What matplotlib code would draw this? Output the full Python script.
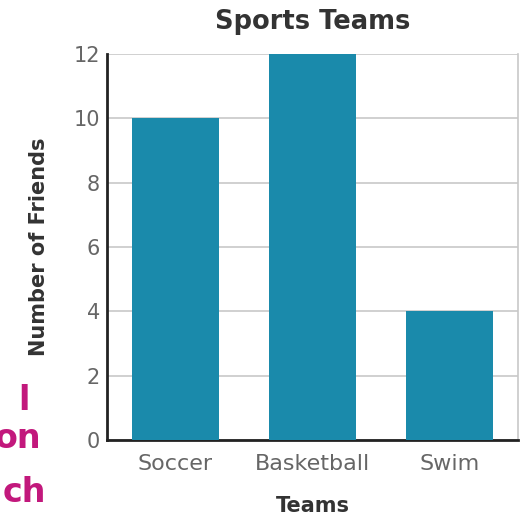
import matplotlib.pyplot as plt

teams = ['Soccer', 'Basketball', 'Swim']
friends = [10, 12, 4]
y_ticks = [0, 2, 4, 6, 8, 10, 12]

plt.rcParams['font.family'] = ['DejaVu Sans']

fig = plt.figure(figsize=(5.31, 5.21), dpi=100)
ax = fig.add_axes([107/531, 1 - 440/521, 411/531, 386/521])

x = list(range(len(teams)))
ax.bar(x, friends, width=0.64, color='#1a8aab', zorder=3)

ax.set_xlim(-0.5, 2.5)
ax.set_ylim(0, 12)
ax.set_yticks(y_ticks)
ax.set_xticks(x)
ax.set_xticklabels(teams, fontsize=16)
ax.grid(axis='y', color='#c8c8c8', linewidth=1.2, zorder=0)
ax.tick_params(length=0, labelcolor='#666666')
ax.tick_params(axis='x', pad=10)
ax.tick_params(axis='y', pad=5, labelsize=15)

for side in ['left', 'bottom']:
    ax.spines[side].set_color('#222222')
    ax.spines[side].set_linewidth(2)
ax.spines['right'].set_color('#c8c8c8')
ax.spines['right'].set_linewidth(1.2)
ax.spines['top'].set_visible(False)

ax.set_title('Sports Teams', fontsize=18.5, fontweight='bold', color='#333333', pad=18)
ax.set_xlabel('Teams', fontsize=15, fontweight='bold', color='#333333', labelpad=16)
ax.set_ylabel('Number of Friends', fontsize=15, fontweight='bold', color='#333333', labelpad=18)

# cropped pieces of magenta text at the left edge
for txt, xpix, ypix in [('l', 30, 400), ('on', 41, 438), ('ch', 46, 492)]:
    fig.text(xpix/531, 1 - ypix/521, txt, ha='right', va='center',
             fontsize=24, fontweight='bold', color='#c2187c')

fig.savefig('out.png', dpi=100)
